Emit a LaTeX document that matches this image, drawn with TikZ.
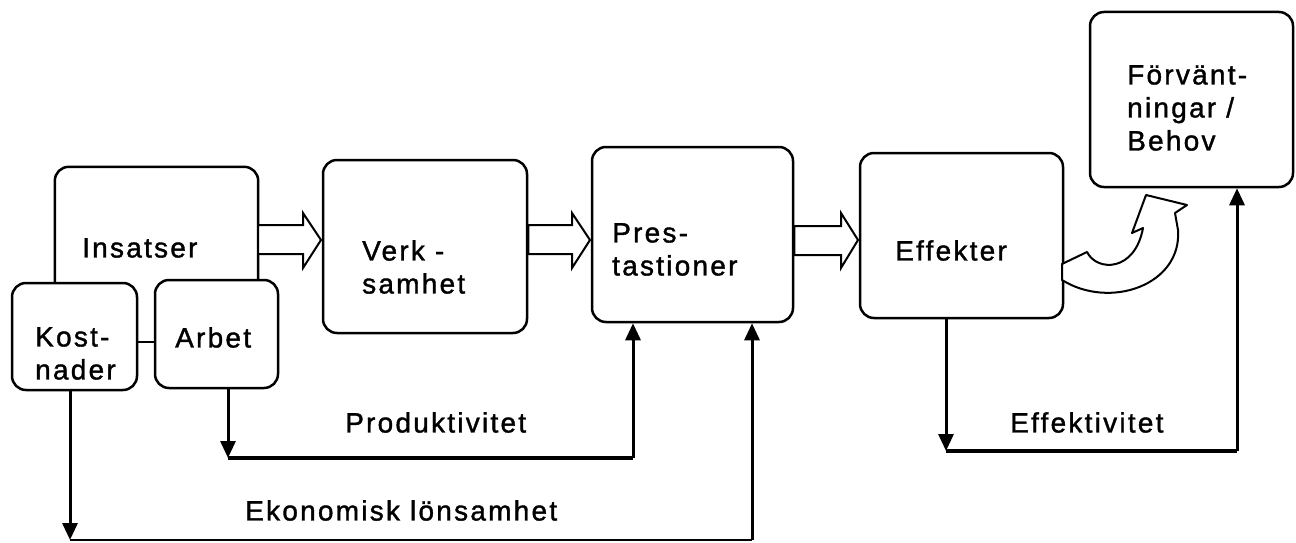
\documentclass[tikz,border=0pt]{standalone}
\usepackage{fontspec}
\setmainfont{Liberation Sans}[LetterSpace=8,FakeBold=1.3]
\usetikzlibrary{arrows.meta,calc}
\tikzset{
  box/.style={draw, line width=2.5pt, rounded corners=14pt, fill=white, inner sep=0pt},
  txt/.style={anchor=north west, inner sep=0pt, align=left, font=\fontsize{28}{33}\selectfont},
  conn/.style={line width=3pt},
  hconn/.style={line width=4pt},
  tip/.style={-{Triangle[width=15pt,length=17pt]}},
  blockarr/.style={draw, line width=2pt, fill=white, line join=miter}
}
\begin{document}
\begin{tikzpicture}[x=1pt,y=-1pt]
\useasboundingbox (0,0) rectangle (1296,543);
% Insatser (open at bottom)
\node[minimum width=203pt, minimum height=116pt, inner sep=0pt] (ins) at (156.5,225) {};
\draw[line width=2.5pt, rounded corners=14pt] (ins.south west) |- (ins.north east) -- (ins.south east);
% boxes
\node[box, minimum width=125pt, minimum height=107pt] (kost) at (74.5,336.5) {};
\node[box, minimum width=123pt, minimum height=108pt] (arbet) at (216.5,334) {};
\node[box, minimum width=204pt, minimum height=173pt] (verk) at (425,246.5) {};
\node[box, minimum width=201pt, minimum height=175pt] (prest) at (692.5,234.5) {};
\node[box, minimum width=203pt, minimum height=165pt] (eff) at (961.5,235.5) {};
\node[box, minimum width=203pt, minimum height=175pt] (forv) at (1191.5,99.5) {};
% texts
\node[txt] (tins) at (82,238) {Insatser};
\node[txt] (tkost) at (35,327) {Kost-\\nader};
\node[txt] (tarbet) at (175,327) {Arbet};
\node[txt] (tverk) at (362,240) {Verk -\\samhet};
\node[txt] (tprest) at (612,223) {Pres-\\tastioner};
\node[txt] (teff) at (895,240) {Effekter};
\node[txt] (tforv) at (1127,65) {Förvänt-\\ningar /\\Behov};
\node[txt] (tprod) at (345,412) {Produktivitet};
\node[txt] (tekon) at (245,500) {Ekonomisk lönsamhet};
\node[txt] (teffk) at (1010,412) {Effektivitet};
% block arrows
\draw[blockarr] (ins.east |- 0,225) -- (303,225) -- (303,213) -- (321,240) -- (303,268) -- (303,254) -- (ins.east |- 0,254) -- cycle;
\draw[blockarr] (verk.east |- 0,225) -- (572,225) -- (572,213) -- (590,240) -- (572,268) -- (572,254) -- (verk.east |- 0,254) -- cycle;
\draw[blockarr] (prest.east |- 0,226) -- (841,226) -- (841,213) -- (858,240) -- (841,268) -- (841,255) -- (prest.east |- 0,255) -- cycle;
% curved arrow
\draw[line width=2pt, fill=white, line join=round] (1062,264) -- (1087,252)
  .. controls (1097,272) and (1135,272) .. (1143,228)
  -- (1132,233) -- (1146,195) -- (1187,205) -- (1175,213) -- (1178,230)
  .. controls (1182,285) and (1110,310) .. (1062,280) -- cycle;
% Kostnader - Arbet link
\coordinate (m) at (146,342);
\draw[line width=2.5pt] (kost.east |- m) -- (arbet.west |- m);
% Produktivitet loop
\coordinate (c1) at (228,458);
\coordinate (p1) at (633,458);
\draw[conn, tip] (c1 |- arbet.south) -- (c1);
\draw[hconn] (c1) -- (p1);
\draw[conn, tip] (p1) -- (p1 |- prest.south);
% Ekonomisk loop
\coordinate (c2) at (70,540);
\coordinate (p2) at (752,540);
\draw[conn, tip] (c2 |- kost.south) -- (c2);
\draw[line width=2.5pt] (c2) -- (p2);
\draw[conn, tip] (p2) -- (p2 |- prest.south);
% Effektivitet loop
\coordinate (c3) at (946,451);
\coordinate (p3) at (1237,451);
\draw[conn, tip] (c3 |- eff.south) -- (c3);
\draw[hconn] (c3) -- (p3);
\draw[conn, tip] (p3) -- (p3 |- forv.south);
\end{tikzpicture}
\end{document}
